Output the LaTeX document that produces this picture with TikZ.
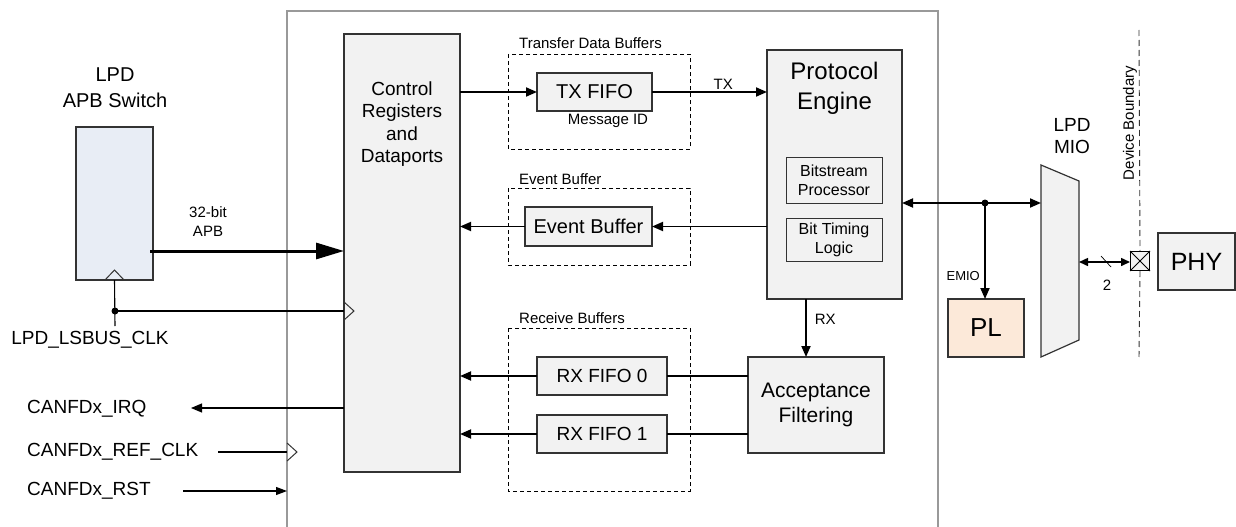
\documentclass[tikz,border=0pt]{standalone}
\usepackage{fontspec}
\setmainfont{Liberation Sans}
\usetikzlibrary{arrows.meta,calc}
\definecolor{boxgray}{HTML}{F2F2F2}
\definecolor{apbfill}{HTML}{E8EDF5}
\definecolor{plfill}{HTML}{FCE9D9}
\definecolor{framegray}{HTML}{999999}
\definecolor{edge}{HTML}{333333}
\begin{document}
\begin{tikzpicture}[x=1pt,y=-1pt,
  box/.style={draw=edge, fill=boxgray, line width=1.2pt, inner sep=0pt, outer sep=0pt, anchor=north west},
  conn/.style={line width=1.8pt, draw=black},
  thin/.style={line width=1.1pt, draw=black},
  tip/.style={-{Triangle[length=11pt,width=9pt]}},
  dbox/.style={draw=black, dashed, line width=0.9pt, dash pattern=on 4pt off 3pt},
  txt/.style={inner sep=0pt, align=center},
  fbig/.style={font=\fontsize{24}{30}\selectfont},
  fmid/.style={font=\fontsize{20}{22}\selectfont},
  fsig/.style={font=\fontsize{19}{22}\selectfont},
  fsm/.style={font=\fontsize{15}{19}\selectfont},
  fxs/.style={font=\fontsize{13}{15}\selectfont}]
\useasboundingbox (0,0) rectangle (1236,527);

% outer frame
\coordinate (fbl) at (287,527);
\coordinate (ftl) at (287,11);
\coordinate (ftr) at (938,11);
\coordinate (fbr) at (938,527);
\draw[framegray, line width=1.5pt] (fbl) -- (ftl) -- (ftr) -- (fbr);

% APB switch
\node[box, fill=apbfill, minimum width=77pt, minimum height=153pt] (apb) at (76,127) {};
\node[txt, fmid] (apbl1) at (115,75) {LPD};
\node[txt, fmid] (apbl2) at (115,100) {APB Switch};
\draw[edge, line width=1pt] ($(apb.south)+(-9.5,0)$) -- ++(9.5,-10) -- ++(9.5,10);

% control registers
\node[box, minimum width=116pt, minimum height=438pt] (ctrl) at (344,34) {};
\node[txt, fsig, font=\fontsize{19}{22.3}\selectfont] (ctrltxt) at (402,124) {Control\\Registers\\and\\Dataports};

% buffers
\draw[dbox] (508,54) rectangle (690,149);
\node[txt, fsm, anchor=west] (tdbl) at (519,43) {Transfer Data Buffers};
\node[box, minimum width=115pt, minimum height=38pt, fmid] (txfifo) at (537,73) {};
\node[txt, fmid] at (txfifo.center) {TX FIFO};
\node[txt, fsm] (msgid) at (608,121) {Message ID};

\draw[dbox] (508,188) rectangle (690,265);
\node[txt, fsm, anchor=west] (ebl) at (519,179) {Event Buffer};
\node[box, minimum width=127pt, minimum height=39pt] (evbuf) at (525,207) {};
\node[txt, fmid] at (evbuf.center) {Event Buffer};

\draw[dbox] (508,328) rectangle (690,491);
\node[txt, fsm, anchor=west] (rbl) at (519,318) {Receive Buffers};
\node[box, minimum width=130pt, minimum height=38pt] (rx0) at (537,357) {};
\node[txt, fsig] at (rx0.center) {RX FIFO 0};
\node[box, minimum width=130pt, minimum height=38pt] (rx1) at (537,415) {};
\node[txt, fsig] at (rx1.center) {RX FIFO 1};

% protocol engine
\node[box, minimum width=135pt, minimum height=249pt] (prot) at (767,50) {};
\node[txt, fbig] (prottxt) at (834.5,88) {Protocol\\Engine};
\node[box, fill=none, line width=1pt, minimum width=96pt, minimum height=46pt] (bsp) at (786,157) {};
\node[txt, font=\fontsize{16}{19}\selectfont] at (bsp.center) {Bitstream\\Processor};
\node[box, fill=none, line width=1pt, minimum width=96pt, minimum height=43pt] (btl) at (786,218) {};
\node[txt, font=\fontsize{16}{19}\selectfont] at (btl.center) {Bit Timing\\Logic};

% acceptance filtering
\node[box, minimum width=136pt, minimum height=96pt] (acc) at (748,357) {};
\node[txt, font=\fontsize{21}{25}\selectfont] at (acc.center) {Acceptance\\Filtering};

% PL, MIO, PHY
\node[box, fill=plfill, minimum width=76pt, minimum height=58pt] (pl) at (948,299) {};
\node[txt, font=\fontsize{26}{30}\selectfont] at (pl.center) {PL};
\draw[edge, fill=boxgray, line width=1.2pt] (1041,165) -- (1079,181) -- (1079,340) -- (1041,357) -- cycle;
\coordinate (mioL) at (1041,203);
\coordinate (mioR) at (1079,262);
\node[txt, font=\fontsize{19}{22}\selectfont] (miol) at (1072,136) {LPD\\MIO};
\node[box, minimum width=77pt, minimum height=57pt] (phy) at (1158,233) {};
\node[txt, font=\fontsize{25}{30}\selectfont] at (phy.center) {PHY};
\node[draw=black, fill=boxgray, line width=1pt, minimum size=19pt, inner sep=0pt] (xbox) at (1140,261) {};
\draw[line width=0.8pt] (xbox.north west) -- (xbox.south east) (xbox.north east) -- (xbox.south west);

% device boundary
\coordinate (db1) at (1139,30);
\coordinate (db2) at (1139,357);
\draw[edge, line width=0.9pt, dash pattern=on 6pt off 4pt] (db1) -- (xbox.north) (xbox.south) -- (db2);
\node[txt, fsm, rotate=90] (dbl) at (1130,123) {Device Boundary};

% APB bus
\coordinate (apbout) at (150,251);
\draw[line width=3pt, -{Triangle[length=28pt,width=16pt]}] (apbout) -- (ctrl.west |- apbout);
\node[txt, fsm] (apbbus) at (208,222) {32-bit\\APB};

% LPD clock
\coordinate (clkdot) at (115,311);
\coordinate (clkend) at (115,326);
\draw[thin] (apb.south) -- (clkend);
\fill (clkdot) circle (3.5pt);
\draw[thin] (clkdot) -- (ctrl.west |- clkdot);
\draw[edge, line width=1pt] ($(ctrl.west |- clkdot)+(0,-9)$) -- ++(10,9) -- ++(-10,9);
\node[txt, fsig, anchor=north] (lsbus) at (90,331) {LPD\_LSBUS\_CLK};

% left-side signals
\node[txt, fsig, anchor=west] (irq) at (27,409) {CANFDx\_IRQ};
\node[txt, fsig, anchor=west] (refclk) at (27,452) {CANFDx\_REF\_CLK};
\node[txt, fsig, anchor=west] (rst) at (27,491) {CANFDx\_RST};
\coordinate (irqtip) at (191,408);
\draw[thin, tip] (ctrl.west |- irqtip) -- (irqtip);
\coordinate (refst) at (218,452);
\draw[thin] (refst) -- (ftl |- refst);
\draw[edge, line width=1pt] ($(ftl |- refst)+(0,-9)$) -- ++(10,9) -- ++(-10,9);
\coordinate (rstst) at (183,491);
\draw[thin, -{Triangle[length=11pt,width=8pt]}] (rstst) -- (ftl |- rstst);

% data path
\draw[conn, tip] (ctrl.east |- txfifo.west) -- (txfifo.west);
\draw[conn, tip] (txfifo.east) -- (prot.west |- txfifo.east) node[pos=0.62, above=2pt, fsm, inner sep=0pt] {TX};
\draw[conn, tip] (prot.west |- evbuf.east) -- (evbuf.east);
\draw[conn, tip] (evbuf.west) -- (ctrl.east |- evbuf.west);
\draw[conn] (acc.west |- rx0.east) -- (rx0.east);
\draw[conn, tip] (rx0.west) -- (ctrl.east |- rx0.west);
\draw[conn] (acc.west |- rx1.east) -- (rx1.east);
\draw[conn, tip] (rx1.west) -- (ctrl.east |- rx1.west);
\coordinate (rxx) at (806,0);
\draw[conn, tip] (rxx |- prot.south) -- (rxx |- acc.north) node[pos=0.35, right=8pt, fsm, inner sep=0pt] {RX};

% MIO connections
\coordinate (bdot) at (985,203);
\draw[conn, {Triangle[length=11pt,width=9pt]}-{Triangle[length=11pt,width=9pt]}] (prot.east |- mioL) -- (mioL);
\fill (bdot) circle (3.5pt);
\draw[conn, tip] (bdot) -- (bdot |- pl.north);
\node[txt, fxs, anchor=east] (emio) at (980,276) {EMIO};
\draw[line width=1.5pt, {Triangle[length=9pt,width=8pt]}-{Triangle[length=9pt,width=8pt]}] (mioR) -- (xbox.west |- mioR);
\draw[line width=0.7pt] (1101,256) -- (1111,267);
\node[txt, fsm] (two) at (1107,285) {2};
\end{tikzpicture}
\end{document}
